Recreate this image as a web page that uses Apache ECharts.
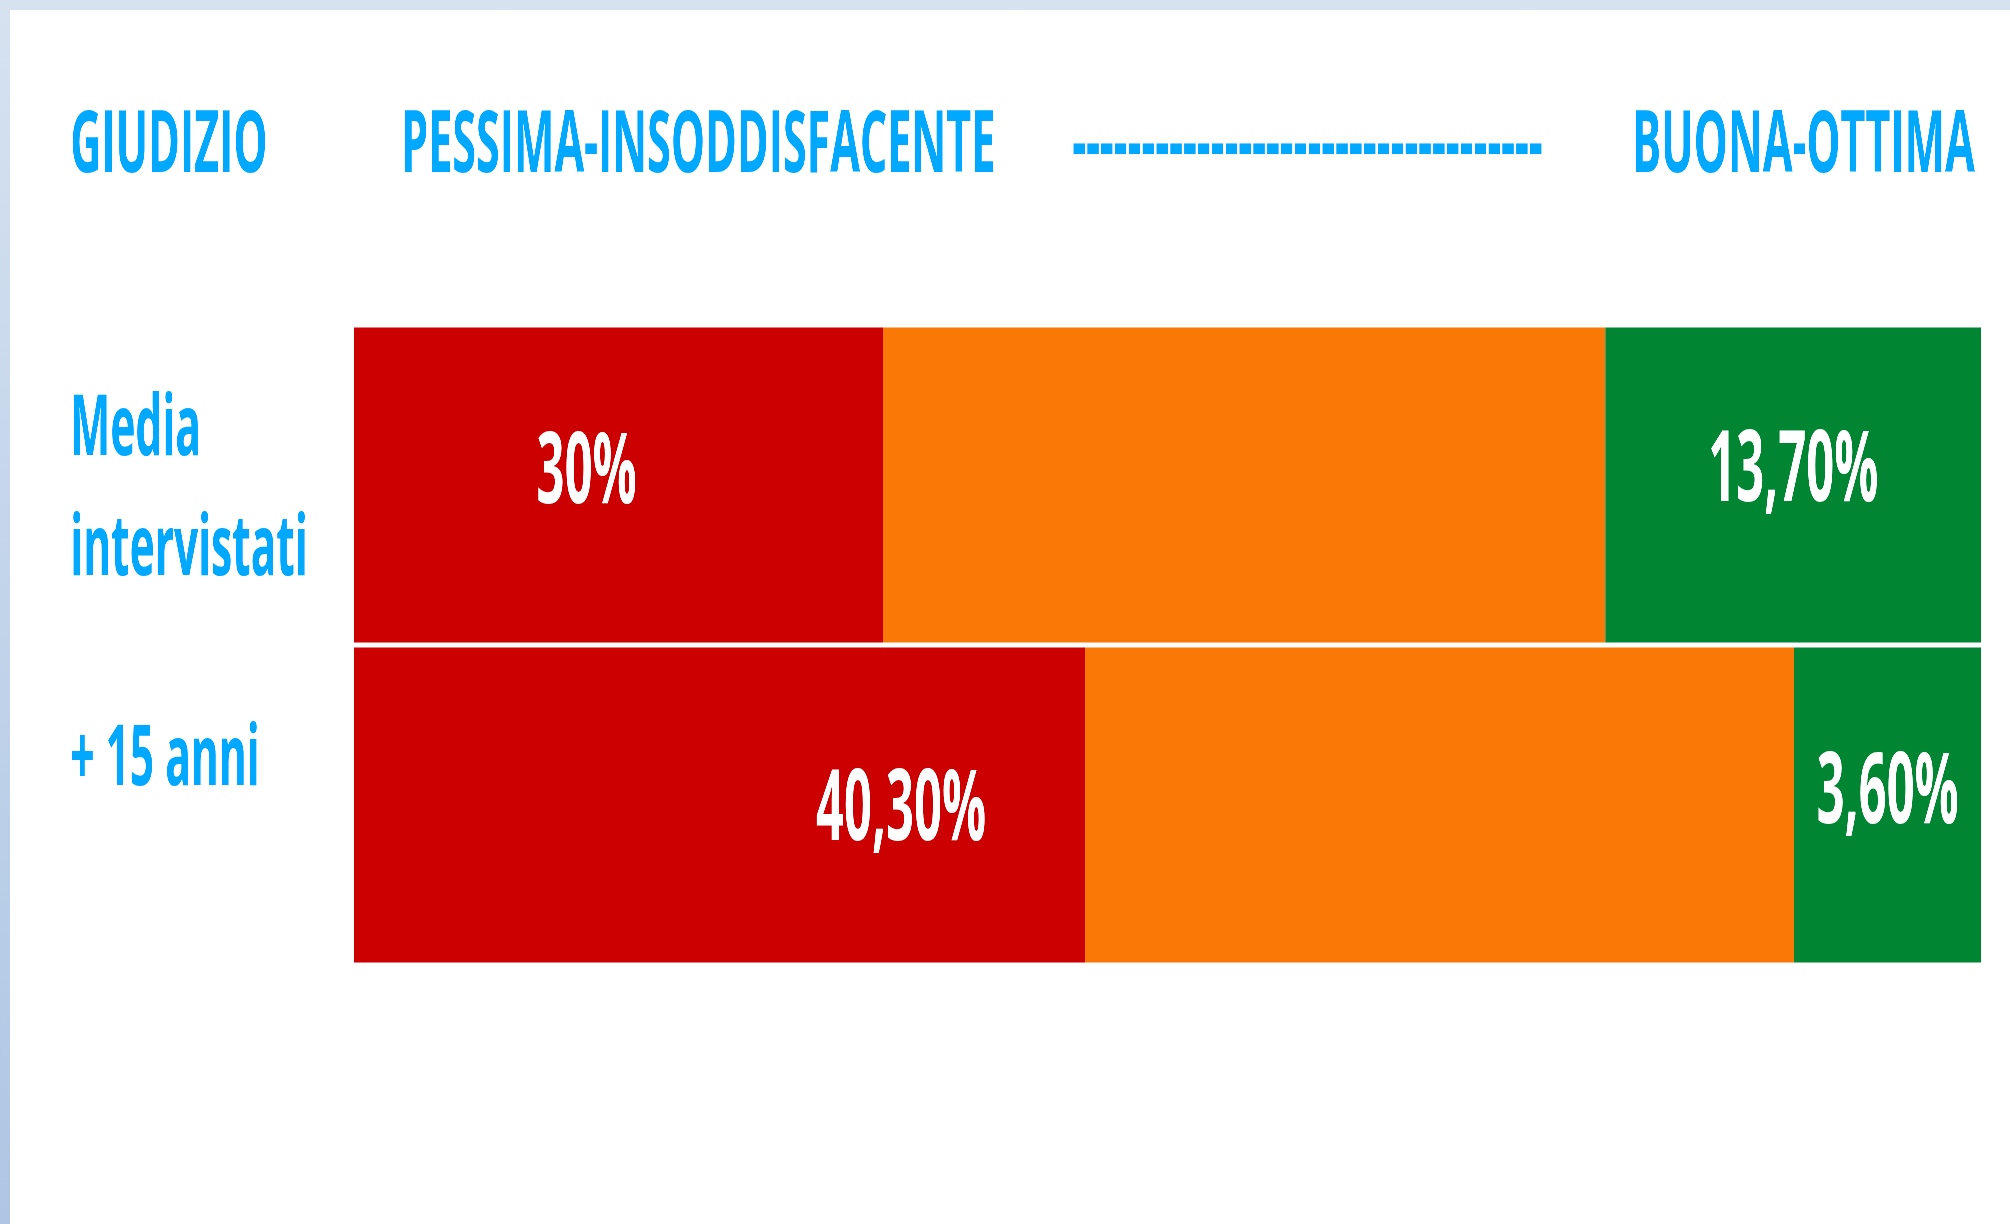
<!DOCTYPE html>
<html>
<head>
<meta charset="utf-8">
<title>Giudizio</title>
<script src="https://cdn.jsdelivr.net/npm/echarts@6/dist/echarts.min.js"></script>
<style>
  html, body { margin: 0; padding: 0; overflow: hidden; }
  body {
    width: 2010px; height: 1224px; position: relative;
    background: linear-gradient(to bottom, #d6e2f0, #aec6e4);
  }
  /* the reference text is squeezed to half width, so draw wide and scale down */
  #chart {
    position: absolute; left: 10px; top: 10px;
    width: 4000px; height: 1214px; background: #fff;
    transform: scaleX(0.5); transform-origin: 0 0;
  }
</style>
</head>
<body>
<div id="chart"></div>
<script>
const categories = ['Media\nintervistati', '+ 15 anni'];
// segment widths as drawn (% of the bar)
const pessima = [32.5, 44.9];
const sufficiente = [44.4, 43.6];
const buona = [23.1, 11.5];
// printed values
const pessimaLabels = ['30%', '40,30%'];
const buonaLabels = ['13,70%', '3,60%'];
const headers = ['GIUDIZIO', 'PESSIMA-INSODDISFACENTE', '----------------------------------', 'BUONA-OTTIMA'];

const blue = '#00a9ff';
const font = 'Open Sans';

const chart = echarts.init(document.getElementById('chart'), null, { renderer: 'canvas' });

const headerX = [120, 782, 2124, 3244];
const pessimaOffsets = [[-64, -10], [363, 7]];
const buonaOffsets = [[0, -12], [0, -10]];

const valueLabel = {
  show: true,
  position: 'inside',
  color: '#fff',
  fontFamily: font,
  fontWeight: 'bold',
  fontSize: 98
};

let option = {
  animation: false,
  graphic: headers.map((t, i) => ({
    type: 'text',
    x: headerX[i],
    y: 137,
    style: {
      text: t,
      fill: blue,
      font: 'bold 86px "Open Sans"',
      verticalAlign: 'middle'
    }
  })),
  grid: { left: 688, right: 58, top: 315, height: 640 },
  xAxis: { type: 'value', min: 0, max: 100, show: false },
  yAxis: {
    type: 'category',
    inverse: true,
    data: categories,
    axisLine: { show: false },
    axisTick: { show: false },
    splitLine: { show: false },
    axisLabel: {
      align: 'left',
      margin: 568,
      color: blue,
      fontFamily: font,
      fontWeight: 'bold',
      fontSize: 85,
      lineHeight: 120,
      padding: [12, 0, 0, 0],
      formatter: (v, i) => (i === 1 ? '{up|' + v + '}' : v),
      rich: {
        up: {
          color: blue,
          fontFamily: font,
          fontWeight: 'bold',
          fontSize: 85,
          lineHeight: 120,
          padding: [0, 0, 100, 0]
        }
      }
    }
  },
  series: [
    {
      name: 'Pessima-Insoddisfacente',
      type: 'bar',
      stack: 'tot',
      barWidth: 315,
      itemStyle: { color: '#cc0000' },
      label: Object.assign({}, valueLabel, { formatter: p => pessimaLabels[p.dataIndex] }),
      data: pessima.map((v, i) => ({ value: v, label: { offset: pessimaOffsets[i] } }))
    },
    {
      name: 'Sufficiente',
      type: 'bar',
      stack: 'tot',
      barWidth: 315,
      itemStyle: { color: '#fa7805' },
      data: sufficiente
    },
    {
      name: 'Buona-Ottima',
      type: 'bar',
      stack: 'tot',
      barWidth: 315,
      itemStyle: { color: '#008532' },
      label: Object.assign({}, valueLabel, { formatter: p => buonaLabels[p.dataIndex] }),
      data: buona.map((v, i) => ({ value: v, label: { offset: buonaOffsets[i] } }))
    }
  ]
};

chart.setOption(option);
window.addEventListener('resize', chart.resize);
</script>
</body>
</html>
